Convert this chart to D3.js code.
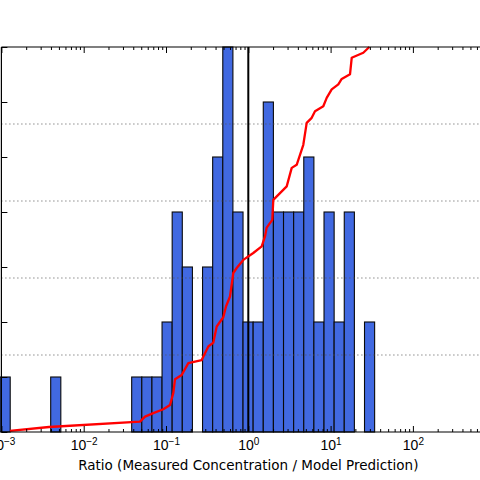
<!DOCTYPE html>
<html>
<head>
<meta charset="utf-8">
<script src="https://cdn.jsdelivr.net/npm/d3@7"></script>
<style>
  body { margin: 0; background: #fff; }
  svg { display: block; font-family: "DejaVu Sans", sans-serif; }
</style>
</head>
<body>
<svg id="chart" width="480" height="480"></svg>
<script>
// histogram bin edges (log10 of ratio) and counts per bin
const binEdges = [-3.016, -2.893, -2.770, -2.647, -2.524, -2.401, -2.278, -2.155, -2.032, -1.909,
  -1.786, -1.663, -1.540, -1.417, -1.294, -1.171, -1.048, -0.925, -0.802, -0.679,
  -0.556, -0.433, -0.310, -0.187, -0.064, 0.059, 0.182, 0.305, 0.428, 0.551,
  0.674, 0.797, 0.920, 1.043, 1.166, 1.289, 1.412, 1.535];
const binCounts = [1, 0, 0, 0, 0, 1, 0, 0, 0, 0, 0, 0, 0, 1, 1, 1, 2, 4, 3, 0,
  3, 5, 7, 4, 2, 2, 6, 4, 4, 4, 5, 2, 4, 2, 4, 0, 2];

// cumulative distribution (ratio, fraction)
const cdfRatio = [0.00127, 0.00379, 0.0483, 0.0556, 0.0701, 0.0927, 0.1118, 0.1227, 0.1287, 0.1551,
  0.1866, 0.2715, 0.3266, 0.3756, 0.413, 0.4968, 0.5358, 0.5991, 0.6572, 0.7229,
  0.8694, 1.150, 1.455, 1.596, 1.673, 1.957, 2.013, 2.928, 3.369, 3.873,
  4.660, 5.124, 5.894, 6.463, 8.153, 8.966, 10.31, 12.41, 13.64, 17.21,
  18.05, 24.96, 29.53];
const cdfFrac = [0.003, 0.013, 0.027, 0.040, 0.049, 0.059, 0.070, 0.101, 0.137, 0.148,
  0.179, 0.187, 0.222, 0.232, 0.274, 0.298, 0.326, 0.352, 0.413, 0.426,
  0.447, 0.465, 0.482, 0.508, 0.531, 0.551, 0.603, 0.638, 0.686, 0.694,
  0.746, 0.803, 0.816, 0.833, 0.846, 0.868, 0.890, 0.903, 0.917, 0.929,
  0.972, 0.985, 1.0];

const decades = [-3, -2, -1, 0, 1, 2];
const gridFracs = [0.2, 0.4, 0.6, 0.8];
const countTicks = [0, 1, 2, 3, 4, 5, 6, 7];
const refRatio = 1;
const xLabel = "Ratio (Measured Concentration / Model Prediction)";

const svg = d3.select("#chart");
const mLeft = 1.4, mRight = 495.2, mTop = 47, mBottom = 432;

const x = d3.scaleLog().domain([1e-3, 1e3]).range([mLeft, mRight]);
const yCount = d3.scaleLinear().domain([0, 7]).range([mBottom, mTop]);
const yFrac = d3.scaleLinear().domain([0, 1]).range([mBottom, mTop]);

// bars
const bins = binCounts.map((c, i) => ({lo: Math.pow(10, binEdges[i]), hi: Math.pow(10, binEdges[i + 1]), count: c}))
  .filter(d => d.count > 0);

svg.append("g")
  .selectAll("rect")
  .data(bins)
  .enter()
  .append("rect")
  .attr("x", d => x(d.lo))
  .attr("y", d => yCount(d.count))
  .attr("width", d => x(d.hi) - x(d.lo))
  .attr("height", d => yCount(0) - yCount(d.count))
  .attr("fill", "#4169e1")
  .attr("stroke", "#0a0a0a")
  .attr("stroke-width", 1.1);

// dotted grid from the cumulative axis
svg.append("g")
  .selectAll("line")
  .data(gridFracs)
  .enter()
  .append("line")
  .attr("x1", mLeft).attr("x2", mRight)
  .attr("y1", d => yFrac(d)).attr("y2", d => yFrac(d))
  .attr("stroke", "#555")
  .attr("stroke-width", 1)
  .attr("stroke-dasharray", "1,3");

// reference line at ratio = 1
svg.append("line")
  .attr("x1", x(refRatio)).attr("x2", x(refRatio))
  .attr("y1", mBottom).attr("y2", mTop)
  .attr("stroke", "#000")
  .attr("stroke-width", 2);

// cdf line
const line = d3.line()
  .x((d, i) => x(cdfRatio[i]))
  .y((d, i) => yFrac(cdfFrac[i]));

svg.append("path")
  .datum(cdfRatio)
  .attr("d", line)
  .attr("fill", "none")
  .attr("stroke", "#ff0000")
  .attr("stroke-width", 2.3)
  .attr("stroke-linejoin", "round");

// axes
const majors = decades.map(e => Math.pow(10, e));
const minors = [];
decades.forEach(e => {
  for (let m = 2; m <= 9; m++) minors.push(m * Math.pow(10, e));
});

function styleAxis(g) {
  g.select(".domain").remove();
  g.selectAll(".tick line").attr("stroke", "#000");
}

// bottom
const xb = svg.append("g").attr("transform", `translate(0,${mBottom})`)
  .call(d3.axisBottom(x).tickValues(majors).tickSize(-6).tickPadding(8).tickFormat(d => ""))
  .call(styleAxis);
xb.selectAll(".tick text")
  .attr("fill", "#000")
  .attr("font-size", 14)
  .each(function(d) {
    const t = d3.select(this);
    const e = Math.round(Math.log10(d));
    t.append("tspan").text("10");
    t.append("tspan").attr("dy", "-0.5em").attr("font-size", 10).text(String(e).replace("-", "\u2212"));
  });
svg.append("g").attr("transform", `translate(0,${mBottom})`)
  .call(d3.axisBottom(x).tickValues(minors).tickSize(-3).tickFormat(""))
  .call(styleAxis);

// top
svg.append("g").attr("transform", `translate(0,${mTop})`)
  .call(d3.axisTop(x).tickValues(majors).tickSize(-6).tickFormat(""))
  .call(styleAxis);
svg.append("g").attr("transform", `translate(0,${mTop})`)
  .call(d3.axisTop(x).tickValues(minors).tickSize(-3).tickFormat(""))
  .call(styleAxis);

// left
svg.append("g").attr("transform", `translate(${mLeft},0)`)
  .call(d3.axisLeft(yCount).tickValues(countTicks).tickSize(-6).tickFormat(""))
  .call(styleAxis);

// spines
svg.append("line").attr("x1", mLeft).attr("x2", mRight).attr("y1", mTop).attr("y2", mTop).attr("stroke", "#000").attr("stroke-width", 1.2);
svg.append("line").attr("x1", mLeft).attr("x2", mRight).attr("y1", mBottom).attr("y2", mBottom).attr("stroke", "#000").attr("stroke-width", 1.2);
svg.append("line").attr("x1", mLeft).attr("x2", mLeft).attr("y1", mTop).attr("y2", mBottom).attr("stroke", "#000").attr("stroke-width", 1.2);

// axis title
svg.append("text")
  .attr("x", (mLeft + mRight) / 2)
  .attr("y", 470)
  .attr("text-anchor", "middle")
  .attr("font-size", 13.5)
  .attr("fill", "#000")
  .text(xLabel);
</script>
</body>
</html>
